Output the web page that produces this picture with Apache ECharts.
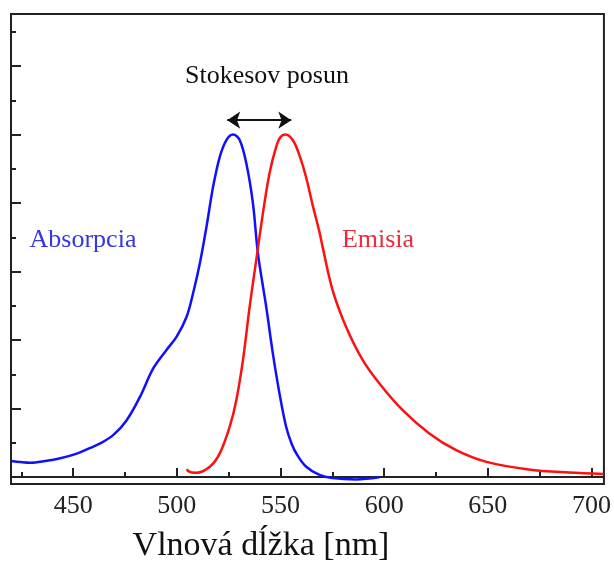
<!DOCTYPE html>
<html>
<head>
<meta charset="utf-8">
<script src="https://cdn.jsdelivr.net/npm/echarts@6/dist/echarts.min.js"></script>
<style>html,body{margin:0;padding:0;background:#fff}#c{width:614px;height:562px}</style>
</head>
<body>
<div id="c"></div>
<script>
// Data (wavelength in nm, normalised intensity)
const absWavelength = [420.2, 424.5, 429.3, 436.5, 443.8, 451, 458.2, 463, 469.4, 475.8, 482.2, 488.6, 495, 499.9, 504.7, 507.8, 511.1, 514.3, 517.5, 520.7, 523.9, 527.1, 530.3, 533.5, 536.7, 539.1, 543.1, 546.3, 549.5, 552.7, 555.5, 558, 562.4, 568.8, 575, 586.4, 597.6];
const absValues     = [0.047, 0.044, 0.042, 0.047, 0.055, 0.067, 0.085, 0.098, 0.123, 0.166, 0.234, 0.317, 0.371, 0.410, 0.468, 0.536, 0.624, 0.731, 0.848, 0.935, 0.984, 1.0, 0.984, 0.916, 0.799, 0.653, 0.497, 0.361, 0.244, 0.147, 0.095, 0.065, 0.030, 0.006, -0.003, -0.007, -0.001];
const emWavelength  = [504.8, 505.4, 507.2, 509.5, 515.9, 520.7, 525.5, 528.7, 531.9, 535.1, 538.3, 541.5, 544.7, 547.9, 550, 552.4, 555.9, 559.1, 562.3, 565.5, 568.8, 570.3, 575.1, 581.6, 589.6, 597.6, 608.8, 621.6, 634.5, 648.9, 669.7, 689, 705.8];
const emValues      = [0.023, 0.018, 0.013, 0.0125, 0.030, 0.069, 0.147, 0.225, 0.342, 0.497, 0.634, 0.770, 0.887, 0.964, 0.993, 1.0, 0.984, 0.940, 0.876, 0.794, 0.715, 0.672, 0.546, 0.439, 0.342, 0.274, 0.196, 0.128, 0.079, 0.045, 0.022, 0.013, 0.009];
const xMajorTicks = [450, 500, 550, 600, 650, 700];
const xMinorTicks = [425, 475, 525, 575, 625, 675];
const yMajorTicks = [0, 0.2, 0.4, 0.6, 0.8, 1.0, 1.2];
const yMinorTicks = [0.1, 0.3, 0.5, 0.7, 0.9, 1.1, 1.3];
const xRange = [420, 706];
const yRange = [-0.0204, 1.352];
const stokesArrow = [[524.3, 1.042], [555.2, 1.042]];

const serif = "'Liberation Serif', 'DejaVu Serif', serif";
const axisColor = '#222';

const chart = echarts.init(document.getElementById('c'), null, {renderer: 'canvas'});
const zip = (a, b) => a.map((v, i) => [v, b[i]]);

chart.setOption({
  animation: false,
  grid: {left: 11, top: 14, right: 9, bottom: 78, show: true, borderColor: axisColor, borderWidth: 2, backgroundColor: 'transparent'},
  xAxis: [
    {type: 'value', min: xRange[0], max: xRange[1], position: 'bottom',
     splitLine: {show: false},
     axisLine: {show: true, lineStyle: {color: axisColor, width: 2}},
     axisTick: {show: true, inside: true, length: 9, lineStyle: {color: axisColor, width: 2}, customValues: xMajorTicks},
     axisLabel: {show: true, customValues: xMajorTicks, margin: 9, color: '#222', fontFamily: serif, fontSize: 26}},
    {type: 'value', min: xRange[0], max: xRange[1], position: 'bottom',
     splitLine: {show: false}, axisLine: {show: false},
     axisTick: {show: true, inside: true, length: 5, lineStyle: {color: axisColor, width: 2}, customValues: xMinorTicks},
     axisLabel: {show: false}}
  ],
  yAxis: [
    {type: 'value', min: yRange[0], max: yRange[1], position: 'left',
     splitLine: {show: false},
     axisLine: {show: true, lineStyle: {color: axisColor, width: 2}},
     axisTick: {show: true, inside: true, length: 10, lineStyle: {color: axisColor, width: 2}, customValues: yMajorTicks},
     axisLabel: {show: false}},
    {type: 'value', min: yRange[0], max: yRange[1], position: 'left',
     splitLine: {show: false}, axisLine: {show: false},
     axisTick: {show: true, inside: true, length: 5, lineStyle: {color: axisColor, width: 2}, customValues: yMinorTicks},
     axisLabel: {show: false}}
  ],
  series: [
    {name: 'Absorpcia', type: 'line', xAxisIndex: 0, yAxisIndex: 0, data: zip(absWavelength, absValues),
     showSymbol: false, smooth: 0.35,
     lineStyle: {color: '#1010ff', width: 2.5}},
    {name: 'Emisia', type: 'line', xAxisIndex: 0, yAxisIndex: 0, data: zip(emWavelength, emValues),
     showSymbol: false, smooth: 0.35,
     lineStyle: {color: '#ff1010', width: 2.5},
     markLine: {silent: true, symbol: ['arrow', 'arrow'], symbolSize: [13, 13],
       lineStyle: {color: '#111', width: 2, type: 'solid'}, label: {show: false},
       data: [[{coord: stokesArrow[0]}, {coord: stokesArrow[1]}]]}}
  ],
  graphic: [
    {type: 'text', x: 267, y: 76, style: {text: 'Stokesov posun', align: 'center', verticalAlign: 'middle', font: "26px " + serif, fill: '#111'}},
    {type: 'text', x: 83, y: 240, style: {text: 'Absorpcia', align: 'center', verticalAlign: 'middle', font: "26px " + serif, fill: '#3636e2'}},
    {type: 'text', x: 378, y: 240, style: {text: 'Emisia', align: 'center', verticalAlign: 'middle', font: "26px " + serif, fill: '#ec2a3a'}},
    {type: 'text', x: 261, y: 546, style: {text: 'Vlnová dĺžka [nm]', align: 'center', verticalAlign: 'middle', font: "34px " + serif, fill: '#111'}}
  ]
});
</script>
</body>
</html>
